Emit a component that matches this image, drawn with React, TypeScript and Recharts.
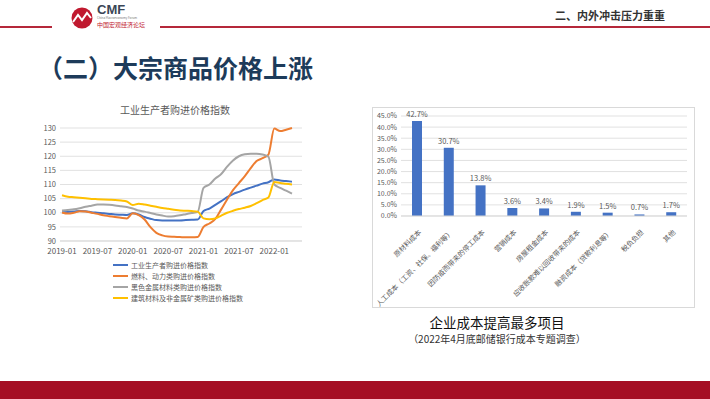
import React from "react";
import {
  LineChart,
  Line,
  XAxis,
  YAxis,
  CartesianGrid,
  BarChart,
  Bar,
  LabelList,
} from "recharts";

// ---- line chart data (monthly, 2019-01 .. 2022-04) ----
const months = [
  "2019-01", "2019-02", "2019-03", "2019-04", "2019-05", "2019-06", "2019-07", "2019-08", "2019-09", "2019-10", "2019-11", "2019-12",
  "2020-01", "2020-02", "2020-03", "2020-04", "2020-05", "2020-06", "2020-07", "2020-08", "2020-09", "2020-10", "2020-11", "2020-12",
  "2021-01", "2021-02", "2021-03", "2021-04", "2021-05", "2021-06", "2021-07", "2021-08", "2021-09", "2021-10", "2021-11", "2021-12",
  "2022-01", "2022-02", "2022-03", "2022-04",
];

const overall = [
  100.2, 100.3, 100.4, 100.6, 100.5, 100.2, 100.0, 99.8, 99.6, 99.4, 99.3, 99.2,
  99.8, 99.4, 98.5, 97.9, 97.4, 97.3, 97.3, 97.3, 97.3, 97.4, 97.5, 97.6,
  100.6, 101.5, 102.8, 104.1, 105.5, 106.6, 107.4, 108.2, 108.9, 109.6, 110.3, 110.8,
  111.8, 111.4, 111.2, 111.0,
];
const fuel = [
  100.1, 99.7, 100.0, 100.5, 100.4, 100.0, 99.6, 99.1, 98.8, 98.5, 98.2, 98.0,
  99.8, 99.2, 97.6, 94.9, 92.9, 92.0, 91.6, 91.5, 91.4, 91.3, 91.3, 91.4,
  95.0, 96.2, 97.8, 101.2, 104.7, 108.0, 110.5, 113.0, 115.8, 118.3, 119.3, 120.6,
  129.8, 128.9, 129.4, 130.0,
];
const ferrous = [
  100.8, 101.0, 101.2, 101.6, 102.1, 102.5, 102.9, 102.9, 102.8, 102.6, 102.3, 102.0,
  101.5, 100.8, 100.4, 99.9, 99.4, 99.0, 98.7, 98.8, 99.1, 99.5, 99.9, 100.3,
  108.8, 110.0, 112.1, 113.7, 116.3, 118.5, 120.0, 120.7, 120.9, 120.9, 120.6, 119.8,
  110.0, 108.8, 107.8, 106.8,
];
const building = [
  106.2, 105.7, 105.5, 105.3, 105.1, 104.9, 104.8, 104.7, 104.6, 104.5, 104.3, 104.0,
  102.7, 103.2, 102.9, 102.5, 102.1, 101.7, 101.4, 101.1, 100.8, 100.7, 100.6, 100.4,
  98.0, 97.7, 98.0, 99.0, 100.0, 100.7, 101.3, 101.8, 102.4, 103.4, 104.5, 105.4,
  110.9, 110.5, 110.3, 110.0,
];
const priceTicks = [90, 95, 100, 105, 110, 115, 120, 125, 130];

const seriesNames = [
  "工业生产者购进价格指数",
  "燃料、动力类购进价格指数",
  "黑色金属材料类购进价格指数",
  "建筑材料及非金属矿类购进价格指数",
];
const seriesColors = ["#4472C4", "#ED7D31", "#A5A5A5", "#FFC000"];
const seriesKeys = ["overall", "fuel", "ferrous", "building"];

// ---- bar chart data ----
const costItems = [
  "原材料成本",
  "人工成本（工资、社保、福利等）",
  "因防疫而带来的停工成本",
  "营销成本",
  "房屋租金成本",
  "应收账款难以回收带来的成本",
  "融资成本（贷款利息等）",
  "税负负担",
  "其他",
];
const costShares = [42.7, 30.7, 13.8, 3.6, 3.4, 1.9, 1.5, 0.7, 1.7];
const shareTicks = [0, 5, 10, 15, 20, 25, 30, 35, 40, 45];

const FONT = "'Noto Sans CJK SC', 'Noto Sans', sans-serif";
const GRID = "#d9d9d9";
const TEXT = "#595959";

const lineData = months.map((m, i) => ({
  month: m,
  overall: overall[i],
  fuel: fuel[i],
  ferrous: ferrous[i],
  building: building[i],
}));

const barData = costItems.map((name, i) => ({ name, value: costShares[i] }));

const RotatedTick = (props: any) => {
  const { x, y, payload } = props;
  return (
    <g transform={`translate(${x + 3},${y + 7})`}>
      <text
        x={0}
        y={0}
        dy="0.35em"
        textAnchor="end"
        transform="rotate(-45)"
        fontSize={7}
        fill={TEXT}
        fontFamily={FONT}
      >
        {payload.value}
      </text>
    </g>
  );
};

export default function App() {
  return (
    <div
      style={{
        position: "absolute",
        left: 0,
        top: 0,
        width: 710,
        height: 399,
        background: "#fff",
        overflow: "hidden",
        fontFamily: FONT,
      }}
    >
      {/* header */}
      <div style={{ position: "absolute", left: 0, top: 26, width: 52, height: 1.5, background: "#b5283a" }} />
      <div style={{ position: "absolute", left: 160, top: 26, width: 550, height: 1.5, background: "#b5283a" }} />
      <svg style={{ position: "absolute", left: 70, top: 6 }} width={26} height={24}>
        <circle cx={12} cy={12} r={10.5} fill="#C0192F" />
        <polyline points="3,16 8,9 12,14 17,7 21,12" fill="none" stroke="#fff" strokeWidth={2} />
      </svg>
      <div style={{ position: "absolute", left: 97, top: 3, fontSize: 13, fontWeight: 700, color: "#3b4656", lineHeight: "14px", fontFamily: "'Liberation Sans', Arial, sans-serif" }}>
        CMF
      </div>
      <div style={{ position: "absolute", left: 97, top: 17, fontSize: 3, color: "#777", lineHeight: "3px", whiteSpace: "nowrap" }}>
        China Macroeconomy Forum
      </div>
      <div style={{ position: "absolute", left: 97, top: 21, fontSize: 6, color: "#c0192f", lineHeight: "7px", whiteSpace: "nowrap" }}>
        中国宏观经济论坛
      </div>
      <div style={{ position: "absolute", left: 555, top: 7, fontSize: 11, fontWeight: 700, color: "#333", lineHeight: "16px", whiteSpace: "nowrap" }}>
        二、内外冲击压力重重
      </div>
      <div style={{ position: "absolute", left: 38, top: 50, fontSize: 25, fontWeight: 700, color: "#1d3b5a", lineHeight: "34px", whiteSpace: "nowrap" }}>
        （二）大宗商品价格上涨
      </div>

      {/* left: line chart */}
      <div style={{ position: "absolute", left: 60, top: 103, width: 230, textAlign: "center", fontSize: 10, color: TEXT, lineHeight: "14px" }}>
        工业生产者购进价格指数
      </div>
      <div style={{ position: "absolute", left: 20, top: 100 }}>
        <LineChart width={290} height={166} data={lineData} margin={{ top: 28, right: 8, bottom: 0, left: 0 }}>
          <CartesianGrid vertical={false} stroke={GRID} strokeWidth={0.8} />
          <XAxis
            dataKey="month"
            interval={5}
            height={25}
            padding={{ left: 2, right: 10 }}
            tickLine={false}
            axisLine={{ stroke: GRID }}
            tickSize={0}
            tickMargin={7}
            tick={{ fontSize: 8, fill: TEXT, fontFamily: FONT }}
          />
          <YAxis
            domain={[90, 130]}
            ticks={priceTicks}
            interval={0}
            width={40}
            tickLine={false}
            axisLine={false}
            tickSize={0}
            tickMargin={4}
            tick={{ fontSize: 7.5, fill: TEXT, fontFamily: FONT }}
          />
          {seriesKeys.map((k, i) => (
            <Line
              key={k}
              dataKey={k}
              type="monotone"
              stroke={seriesColors[i]}
              strokeWidth={2}
              dot={false}
              isAnimationActive={false}
            />
          ))}
        </LineChart>
      </div>
      <div style={{ position: "absolute", left: 113, top: 259 }}>
        {seriesNames.map((n, i) => (
          <div key={n} style={{ display: "flex", alignItems: "center", height: 11, fontSize: 7, color: TEXT, whiteSpace: "nowrap" }}>
            <span style={{ display: "inline-block", width: 15, height: 2, background: seriesColors[i], marginRight: 3 }} />
            {n}
          </div>
        ))}
      </div>

      {/* right: bar chart */}
      <div
        style={{
          position: "absolute",
          left: 372,
          top: 107,
          width: 323,
          height: 201,
          boxSizing: "border-box",
          border: `1px solid ${GRID}`,
        }}
      >
        <BarChart width={321} height={199} data={barData} margin={{ top: 8, right: 7, bottom: 0, left: 0 }}>
          <CartesianGrid vertical={false} stroke={GRID} strokeWidth={0.8} />
          <XAxis
            dataKey="name"
            interval={0}
            height={91}
            tickLine={false}
            axisLine={{ stroke: GRID }}
            tick={<RotatedTick />}
          />
          <YAxis
            domain={[0, 45]}
            ticks={shareTicks}
            interval={0}
            width={28}
            tickLine={false}
            axisLine={false}
            tickSize={0}
            tickMargin={4}
            tickFormatter={(v: number) => `${v.toFixed(1)}%`}
            tick={{ fontSize: 7, fill: TEXT, fontFamily: FONT }}
          />
          <Bar dataKey="value" fill="#4472C4" barSize={10} isAnimationActive={false}>
            <LabelList
              dataKey="value"
              position="top"
              offset={4}
              formatter={(v: any) => `${v}%`}
              style={{ fontSize: 7.5, fill: TEXT, fontFamily: FONT }}
            />
          </Bar>
        </BarChart>
      </div>
      <div style={{ position: "absolute", left: 397, top: 313, width: 200, textAlign: "center", fontSize: 13.5, color: "#111", lineHeight: "18px" }}>
        企业成本提高最多项目
      </div>
      <div style={{ position: "absolute", left: 387, top: 332, width: 220, textAlign: "center", fontSize: 10, color: "#333", lineHeight: "14px", whiteSpace: "nowrap" }}>
        （2022年4月底邮储银行成本专题调查）
      </div>

      {/* footer band */}
      <div style={{ position: "absolute", left: 0, top: 381, width: 710, height: 18, background: "#A50F24" }} />
    </div>
  );
}
